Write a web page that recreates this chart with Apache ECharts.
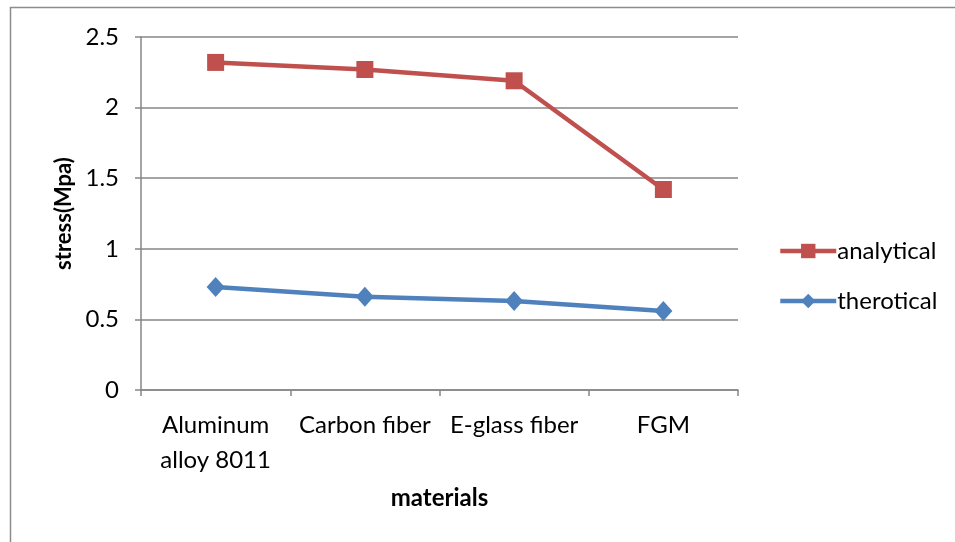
<!DOCTYPE html>
<html><head><meta charset="utf-8">
<script src="https://cdn.jsdelivr.net/npm/echarts@6/dist/echarts.min.js"></script>
<style>html,body{margin:0;padding:0;background:#fff}#c{width:955px;height:542px}</style>
</head><body><div id="c"></div>
<script>
var categories = ['Aluminum\nalloy 8011', 'Carbon fiber', 'E-glass fiber', 'FGM'];
var analytical = [2.32, 2.27, 2.19, 1.42];
var therotical = [0.73, 0.66, 0.63, 0.56];
var yTicks = {min: 0, max: 2.5, interval: 0.5};

var FONT = 'Lato, "Open Sans", sans-serif';
var chart = echarts.init(document.getElementById('c'), null, {renderer: 'canvas'});
chart.setOption({
  animation: false,
  backgroundColor: '#fff',
  graphic: [{type: 'rect', shape: {x: 10.5, y: 7.5, width: 1000, height: 600},
    style: {fill: 'none', stroke: '#8c8c8c', lineWidth: 1.5}, z: 100}],
  grid: {left: 141, right: 217, top: 37, bottom: 152, containLabel: false},
  legend: {
    orient: 'vertical', left: 778, top: 239, padding: 0, itemWidth: 56, itemHeight: 18, itemGap: 26,
    lineStyle: {width: 4.5},
    textStyle: {fontFamily: FONT, fontSize: 24, color: '#000', padding: [0, 0, 0, -4]},
    data: ['analytical', 'therotical']
  },
  xAxis: {
    type: 'category', data: categories, boundaryGap: true,
    name: 'materials', nameLocation: 'middle', nameGap: 96,
    nameTextStyle: {fontFamily: FONT, fontSize: 24, fontWeight: 'bold', color: '#000'},
    axisLine: {lineStyle: {color: '#868686', width: 1.5}},
    axisTick: {show: true, length: 6, lineStyle: {color: '#868686', width: 1.5}},
    axisLabel: {fontFamily: FONT, fontSize: 24, color: '#000', margin: 18, lineHeight: 35, interval: 0}
  },
  yAxis: {
    type: 'value', min: yTicks.min, max: yTicks.max, interval: yTicks.interval,
    name: 'stress(Mpa)', nameLocation: 'middle', nameGap: 56, nameRotate: 90,
    nameTextStyle: {fontFamily: FONT, fontSize: 22, fontWeight: 'bold', color: '#000'},
    axisLine: {show: true, lineStyle: {color: '#868686', width: 1.5}},
    axisTick: {show: true, length: 6, lineStyle: {color: '#868686', width: 1.5}},
    axisLabel: {fontFamily: FONT, fontSize: 24, color: '#000', margin: 22},
    splitLine: {lineStyle: {color: '#868686', width: 1.5}}
  },
  series: [
    {name: 'analytical', type: 'line', data: analytical, symbol: 'rect', symbolSize: 17,
      itemStyle: {color: '#C0504D'}, lineStyle: {color: '#C0504D', width: 4.5}},
    {name: 'therotical', type: 'line', data: therotical, symbol: 'diamond', symbolSize: [18, 20],
      itemStyle: {color: '#4F81BD'}, lineStyle: {color: '#4F81BD', width: 4.5}}
  ]
});
</script></body></html>
